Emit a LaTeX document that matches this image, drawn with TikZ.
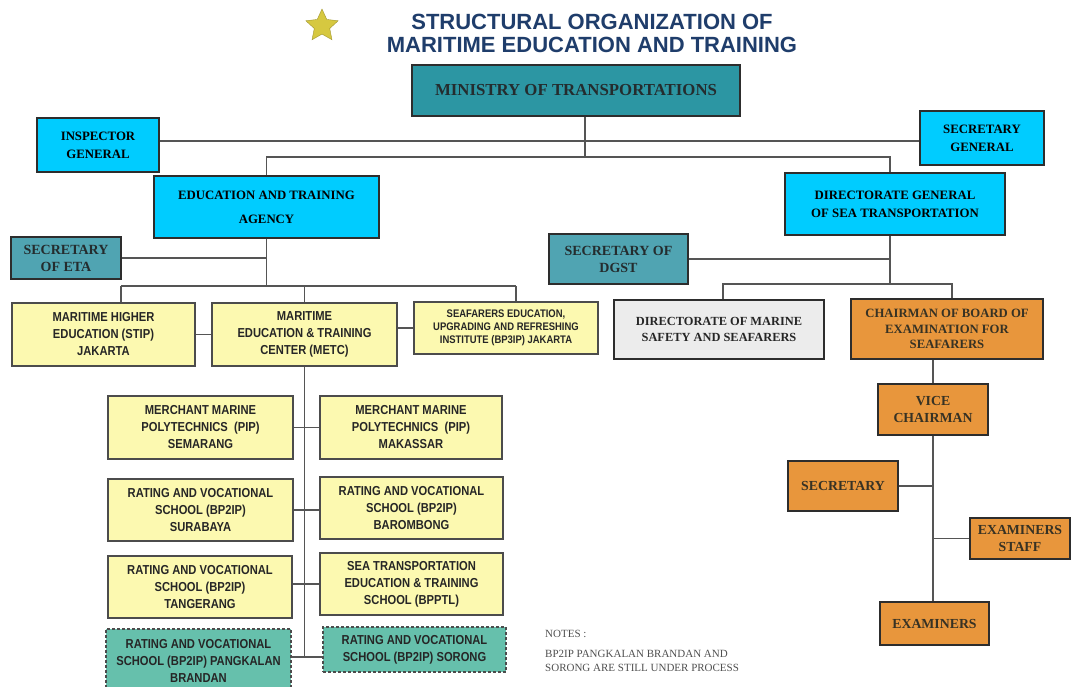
\documentclass[tikz,border=0pt]{standalone}
\usepackage{fontspec}
\setmainfont{Liberation Serif}
\newfontfamily\narrowsans[FakeStretch=0.86]{Liberation Sans}
\newfontfamily\titlesans{Liberation Sans}
\usetikzlibrary{shapes.geometric}
\definecolor{navy}{RGB}{31,61,107}
\definecolor{teal1}{RGB}{44,150,163}
\definecolor{teal2}{RGB}{80,164,178}
\definecolor{cyanbox}{RGB}{0,204,255}
\definecolor{yellowbox}{RGB}{252,249,176}
\definecolor{graybox}{RGB}{236,236,236}
\definecolor{orangebox}{RGB}{232,150,60}
\definecolor{greenbox}{RGB}{102,192,172}
\definecolor{linegray}{RGB}{85,85,85}
\definecolor{edge}{RGB}{45,45,45}
\definecolor{starfill}{RGB}{214,200,64}
\definecolor{dimtext}{RGB}{36,44,46}
\definecolor{orangetext}{RGB}{55,50,36}
\definecolor{notetext}{RGB}{80,80,80}
\begin{document}
\begin{tikzpicture}[x=1pt,y=-1pt,
  wh/.style 2 args={minimum width=#1, minimum height=#2},
  box/.style={draw=edge, line width=1.3pt, inner sep=0pt, align=center},
  topbox/.style={box, fill=cyanbox, text=black, font=\fontsize{12.8}{18}\selectfont\bfseries},
  minbox/.style={box, fill=teal1, text=dimtext, font=\fontsize{16.8}{19}\selectfont\bfseries},
  secbox/.style={box, fill=teal2, text=dimtext, font=\fontsize{14}{17}\selectfont\bfseries},
  ybox/.style={box, draw=edge!85, fill=yellowbox, text=black!85, font=\narrowsans\fontsize{13}{17}\selectfont\bfseries},
  smallybox/.style={ybox, font=\narrowsans\fontsize{11}{13}\selectfont\bfseries},
  gbox/.style={box, fill=graybox, text=black!85, font=\fontsize{12.4}{16}\selectfont\bfseries},
  obox/.style={box, fill=orangebox, text=orangetext, font=\fontsize{13.8}{17}\selectfont\bfseries},
  chairbox/.style={obox, font=\fontsize{12.7}{15.5}\selectfont\bfseries},
  dbox/.style={ybox, fill=greenbox, dash pattern=on 3pt off 2pt},
  conn/.style={draw=linegray, line width=1.5pt},
  titletext/.style={text=navy, inner sep=0pt, font=\titlesans\bfseries\fontsize{22}{26}\selectfont}
]
\useasboundingbox (0,0) rectangle (1071,686);
\fill[white] (0,0) rectangle (1071,686);

% title
\node[star, star points=5, star point ratio=2.1, fill=starfill, draw=starfill!75!black, line width=0.4pt, minimum size=34pt, inner sep=0pt] (star) at (322,26) {};
\node[titletext] (t1) at (592,22) {STRUCTURAL ORGANIZATION OF};
\node[titletext] (t2) at (592,45) {MARITIME EDUCATION AND TRAINING};

% top level
\node[minbox, wh={328}{51}] (min) at (576,90.5) {MINISTRY OF TRANSPORTATIONS};
\node[topbox, wh={122}{54}] (ig) at (98,145) {INSPECTOR\\GENERAL};
\node[topbox, wh={124}{54}] (sg) at (982,138) {SECRETARY\\GENERAL};
\node[topbox, wh={225}{62}] (eta) at (266.5,207) {EDUCATION AND TRAINING\\[6pt]AGENCY};
\node[topbox, wh={220}{62}] (dgst) at (895,204) {DIRECTORATE GENERAL\\OF SEA TRANSPORTATION};

% secretaries
\node[secbox, wh={110}{42}] (seta) at (66,258) {SECRETARY\\OF ETA};
\node[secbox, wh={139}{50}] (sdgst) at (618.5,259) {SECRETARY OF\\DGST};

% ETA branch
\node[ybox, wh={183}{63}] (stip) at (103.5,334.5) {MARITIME HIGHER\\EDUCATION (STIP)\\JAKARTA};
\node[ybox, wh={185}{63}] (metc) at (304.5,334.5) {MARITIME\\EDUCATION \& TRAINING\\CENTER (METC)};
\node[smallybox, wh={184}{52}] (bp3ip) at (506,328) {SEAFARERS EDUCATION,\\UPGRADING AND REFRESHING\\INSTITUTE (BP3IP) JAKARTA};

\node[ybox, wh={185}{63}] (pips) at (200.5,427.5) {MERCHANT MARINE\\POLYTECHNICS \ (PIP)\\SEMARANG};
\node[ybox, wh={182}{63}] (pipm) at (411,427.5) {MERCHANT MARINE\\POLYTECHNICS \ (PIP)\\MAKASSAR};
\node[ybox, wh={185}{62}] (sby) at (200.5,510) {RATING AND VOCATIONAL\\SCHOOL (BP2IP)\\SURABAYA};
\node[ybox, wh={183}{62}] (bar) at (411.5,508) {RATING AND VOCATIONAL\\SCHOOL (BP2IP)\\BAROMBONG};
\node[ybox, wh={184}{62}] (tgr) at (200,587) {RATING AND VOCATIONAL\\SCHOOL (BP2IP)\\TANGERANG};
\node[ybox, wh={183}{62}] (bpptl) at (411.5,584) {SEA TRANSPORTATION\\EDUCATION \& TRAINING\\SCHOOL (BPPTL)};
\node[dbox, wh={185}{64}] (pkb) at (198.5,661) {RATING AND VOCATIONAL\\SCHOOL (BP2IP) PANGKALAN\\BRANDAN};
\node[dbox, wh={183}{45}] (sor) at (414.5,649.5) {RATING AND VOCATIONAL\\SCHOOL (BP2IP) SORONG};

% DGST branch
\node[gbox, wh={210}{59}] (dmss) at (719,329.5) {DIRECTORATE OF MARINE\\SAFETY AND SEAFARERS};
\node[chairbox, wh={192}{60}] (chair) at (947,329) {CHAIRMAN OF BOARD OF\\EXAMINATION FOR\\SEAFARERS};
\node[obox, wh={110}{51}] (vice) at (933,409.5) {VICE\\CHAIRMAN};
\node[obox, wh={110}{50}] (sec) at (843,486) {SECRETARY};
\node[obox, wh={100}{41}] (exs) at (1020,538.5) {EXAMINERS\\STAFF};
\node[obox, wh={109}{43}] (ex) at (934.5,623.5) {EXAMINERS};

% notes
\node[anchor=north west, align=left, inner sep=0pt, text=notetext, font=\fontsize{11}{13.5}\selectfont] (notes) at (545,630) {NOTES :\\[7pt]BP2IP PANGKALAN BRANDAN AND\\SORONG ARE STILL UNDER PROCESS};

% junction coordinates
\coordinate (ja) at (585,141);
\coordinate (jm) at (585,157);
\coordinate (b1) at (121,286);
\coordinate (b3) at (516,286);
\coordinate (jl) at (305,657);
\coordinate (d0) at (0,284);
\coordinate (dgtop) at ([xshift=-5pt]dgst.north);
\coordinate (dgbot) at ([xshift=-5pt]dgst.south);
\coordinate (dmtop) at ([xshift=4pt]dmss.north);
\coordinate (chtop) at ([xshift=5pt]chair.north);

% connectors, top
\draw[conn] ([xshift=9pt]min.south) -- (jm);
\draw[conn] (ig.east |- ja) -- (sg.west |- ja);
\draw[conn] (eta.north) |- (jm) -| (dgtop);

% ETA side
\draw[conn] (eta.south) -- (eta.south |- b1);
\draw[conn] (seta.east) -- (seta.east -| eta.south);
\draw[conn] (b1) -- (b3);
\draw[conn] (b1) -- (b1 |- stip.north);
\draw[conn] (metc.north |- b1) -- (metc.north);
\draw[conn] (b3) -- (b3 |- bp3ip.north);
\draw[conn] (stip.east) -- (metc.west);
\draw[conn] (metc.east |- bp3ip.west) -- (bp3ip.west);
\draw[conn] (metc.south) -- (metc.south |- jl);
\draw[conn] (pips.east) -- (pipm.west);
\draw[conn] (sby.east) -- (sby.east -| bar.west);
\draw[conn] (tgr.east |- bpptl.west) -- (bpptl.west);
\draw[conn] (pkb.east |- jl) -- (sor.west |- jl);

% DGST side
\draw[conn] (dgbot) -- (dgbot |- d0);
\draw[conn] (sdgst.east) -- (sdgst.east -| dgbot);
\draw[conn] (dmtop) |- (dgbot |- d0) -| (chtop);
\draw[conn] (vice.north |- chair.south) -- (vice.north);
\draw[conn] (vice.south) -- (vice.south |- ex.north);
\draw[conn] (sec.east) -- (sec.east -| vice.south);
\draw[conn] (exs.west) -- (exs.west -| vice.south);
\end{tikzpicture}
\end{document}
